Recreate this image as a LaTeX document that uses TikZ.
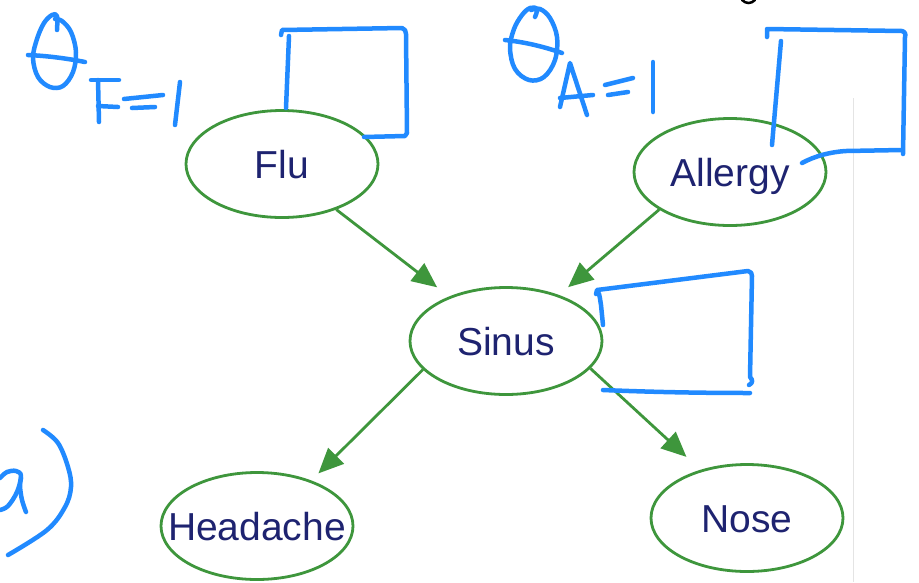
\documentclass[tikz,border=0pt]{standalone}
\usepackage{fontspec}
\setmainfont{Liberation Sans}
\usetikzlibrary{shapes.geometric,arrows.meta}

\definecolor{edgegreen}{RGB}{62,150,60}
\definecolor{labelnavy}{RGB}{30,35,112}
\definecolor{inkblue}{RGB}{33,138,255}
\definecolor{rulegray}{RGB}{228,228,228}

\tikzset{
  var/.style={ellipse, draw=edgegreen, line width=2.8pt,
    minimum width=192pt, minimum height=107pt, inner sep=0pt,
    text=labelnavy, font=\fontsize{39}{47}\selectfont,
    text height=28pt, text depth=0pt},
  dep/.style={draw=edgegreen, line width=2.8pt,
    -{Triangle[length=25pt,width=22pt]}},
  ink/.style={draw=inkblue, line width=4.5pt, line cap=round, line join=round},
}

\begin{document}
\begin{tikzpicture}[x=1pt,y=-1pt]
  \useasboundingbox (0,0) rectangle (919,582);
  \fill[white] (0,0) rectangle (919,582);

  % thin page rule on the right
  \draw[rulegray, line width=1pt] (853,98) -- (853,582);
  % cut-off glyph at the top edge
  \draw[black, line width=2.5pt, line cap=round] (742,0) .. controls (746,4) and (751,4) .. (755,0);

  % variables of the network
  \node[var] (flu)      at (282,164) {Flu};
  \node[var] (allergy)  at (730,172) {Allergy};
  \node[var] (sinus)    at (506,341) {Sinus};
  \node[var, inner xsep=-23pt] (headache) at (257,526) {Headache};
  \node[var] (nose)     at (747,518) {Nose};

  % dependencies
  \draw[dep, shorten >=15pt] (flu.-40)     -- (sinus.142);
  \draw[dep, shorten >=12pt] (allergy.208) -- (sinus.41);
  \draw[dep, shorten >=10pt] (sinus.199)   -- (headache.40);
  \draw[dep, shorten >=19pt] (sinus.-18)   -- (nose.134);

  % handwritten parameter labels
  % theta_{F=1}
  \draw[ink] plot[smooth, tension=0.6] coordinates
    {(57,30) (57,16) (52,15) (44,23) (37,39) (33,58) (38,77) (50,87) (63,86) (73,72) (76,52) (71,32) (62,21) (55,19)};
  \draw[ink] (28,55) .. controls (50,56) and (70,59) .. (85,62);
  \draw[ink] (91,80) -- (119,80);
  \draw[ink] (98,80) -- (99,122);
  \draw[ink] (98,106) -- (118,107);
  \draw[ink] (124,99) -- (163,95);
  \draw[ink] (132,108) -- (155,107);
  \draw[ink] (180,82) -- (175,125);

  % theta_{A=1}
  \draw[ink] plot[smooth, tension=0.6] coordinates
    {(535,17) (537,9) (530,8) (522,15) (514,29) (510,48) (515,69) (529,80) (544,77) (555,60) (557,37) (550,18) (540,9) (531,10)};
  \draw[ink] (505,40) .. controls (525,42) and (545,47) .. (562,53);
  \draw[ink] (560,107) -- (570,63) -- (587,115);
  \draw[ink] (560,98) -- (593,95);
  \draw[ink] (605,85) -- (633,78);
  \draw[ink] (608,95) -- (628,92);
  \draw[ink] (653,62) -- (653,112);

  % boxes for the parameter tables
  \draw[ink] (281,35) -- (282,30) -- (402,28) .. controls (405,29) and (406,31) .. (406,34) -- (407,133) -- (405,136) -- (364,137);
  \draw[ink] (289,36) -- (286,108);

  \draw[ink] (767,37) -- (767,29) -- (902,31) .. controls (905,32) and (906,34) .. (905,37) -- (903,154);
  \draw[ink] (802,163) .. controls (815,156) and (830,152) .. (846,151) -- (902,150);
  \draw[ink] (781,41) -- (772,145);

  \draw[ink] (596,294) -- (597,290) -- (748,271) .. controls (751,272) and (752,273) .. (752,276) -- (750,377) .. controls (753,380) and (753,383) .. (749,385);
  \draw[ink] (598,292) .. controls (600,295) and (600,300) .. (601,305) -- (603,325);
  \draw[ink] (603,390) .. controls (650,392) and (700,393) .. (750,393);

  % "a)" at the left edge
  \draw[ink] plot[smooth, tension=0.6] coordinates
    {(0,478) (7,472) (16,471) (21,476) (17,492) (8,506) (0,510)};
  \draw[ink] plot[smooth, tension=0.6] coordinates
    {(21,478) (20,486) (22,500) (26,512)};
  \draw[ink] plot[smooth, tension=0.6] coordinates
    {(43,430) (58,443) (68,467) (71,487) (65,507) (47,530) (8,555)};
\end{tikzpicture}
\end{document}
